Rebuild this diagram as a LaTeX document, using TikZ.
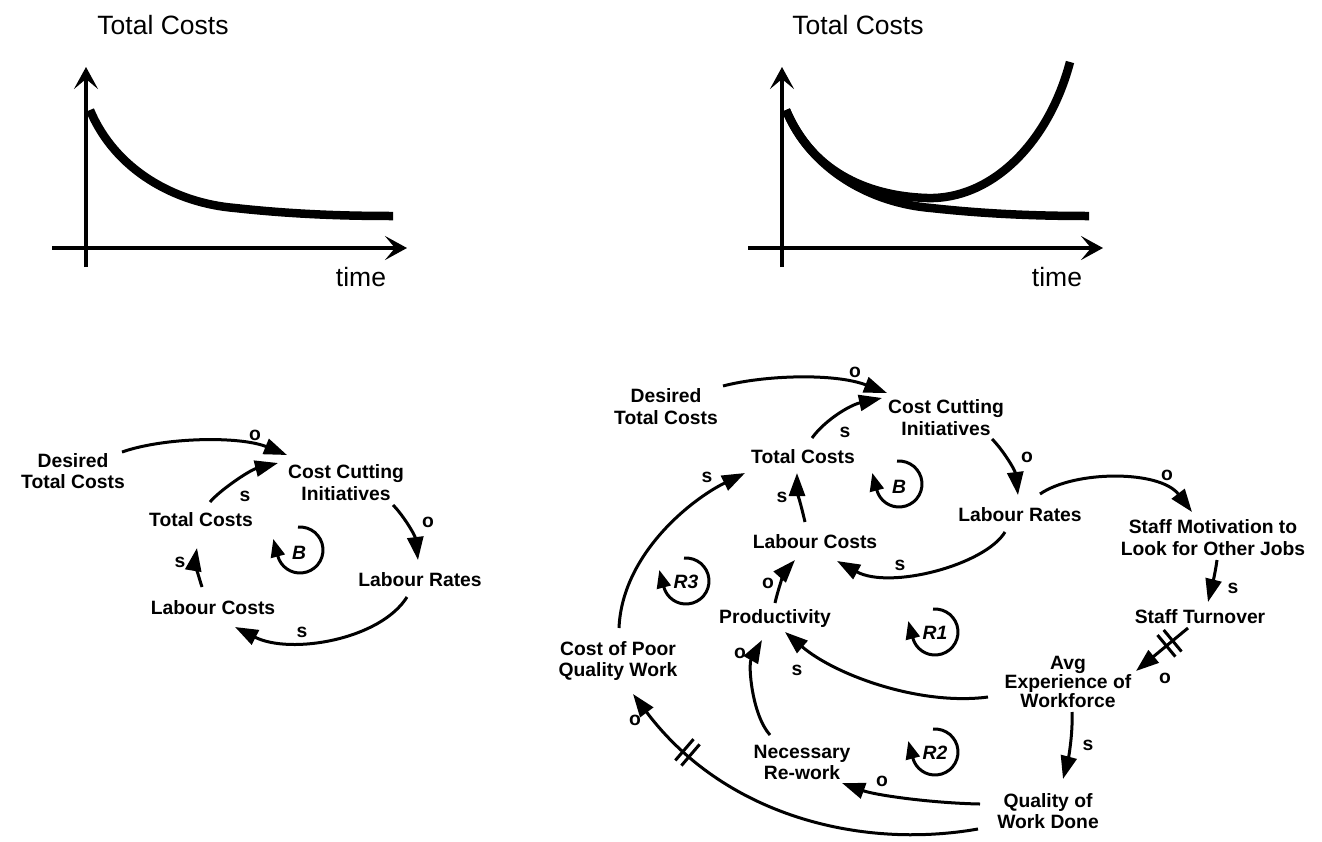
\documentclass[tikz,border=0pt]{standalone}
\usepackage{fontspec}
\setmainfont{Liberation Sans}
\usetikzlibrary{arrows.meta,decorations.markings}
\begin{document}
\begin{tikzpicture}[x=1pt,y=1pt,
  lbl/.style={font=\fontsize{19.3}{21.5}\selectfont\bfseries, align=center, inner sep=0pt},
  sgn/.style={font=\fontsize{19.3}{21.5}\selectfont\bfseries, inner sep=0pt},
  lp/.style={font=\fontsize{19.3}{21.5}\selectfont\bfseries\itshape, inner sep=0pt},
  link/.style={line width=3pt, -{Triangle[length=23pt,width=16pt]}},
  ttl/.style={font=\fontsize{26.5}{30}\selectfont, inner sep=0pt},
  axis/.style={line width=4.5pt, -{Stealth[length=22pt,width=24pt,inset=10pt]}},
  trend/.style={line width=8.5pt},
  delay/.style={postaction={decorate, decoration={markings, mark=at position #1 with {\draw[line width=3pt,-] (-4,-14) -- (-4,14) (4,-14) -- (4,14);}}}},
  loopsym/.pic={\draw[line width=3pt, -{Triangle[length=18pt,width=14pt]}] (95:23) arc[start angle=95,end angle=-165,radius=23] -- ++(-4.5,17);}
]
\useasboundingbox (0,0) rectangle (1322,-841);

% ---------- top graphs ----------
\node[ttl] (title1) at (163,-25) {Total Costs};
\node[ttl] (time1) at (361,-277) {time};
\draw[axis] (52,-248) -- (407,-248);
\draw[axis] (86,-267) -- (86,-67);
\draw[trend] (90,-110) .. controls (115,-170) and (175,-203) .. (235,-208) .. controls (290,-214) and (340,-216) .. (393,-216);

\node[ttl] (title2) at (858,-25) {Total Costs};
\node[ttl] (time2) at (1057,-277) {time};
\draw[axis] (748,-248) -- (1103,-248);
\draw[axis] (782,-267) -- (782,-67);
\begin{scope}[xshift=696pt]
\draw[trend] (90,-110) .. controls (115,-170) and (175,-203) .. (235,-208) .. controls (290,-214) and (340,-216) .. (393,-216);
\end{scope}
\draw[trend] (786,-110) .. controls (811,-170) and (865,-196) .. (927,-198) .. controls (990,-200) and (1048,-145) .. (1070,-62);

% ---------- left causal loop diagram ----------
\node[lbl] (dtc1) at (73,-471) {Desired\\Total Costs};
\node[lbl] (cci1) at (346,-482.5) {Cost Cutting\\Initiatives};
\node[lbl] (tc1) at (201,-520) {Total Costs};
\node[lbl] (lr1) at (420,-580) {Labour Rates};
\node[lbl] (lc1) at (213,-608) {Labour Costs};

\draw[link] ([shift={(49,19)}]dtc1.center) .. controls (165,-437) and (240,-436) .. ([shift={(-59,27.5)}]cci1.center);
\draw[link] ([shift={(9,18)}]tc1.center) .. controls (220,-490) and (250,-470) .. ([shift={(-68,19.5)}]cci1.center);
\draw[link] ([shift={(47,-22.5)}]cci1.center) .. controls (403,-515) and (415,-535) .. ([shift={(-2,20)}]lr1.center);
\draw[link] ([shift={(-13,-17)}]lr1.center) .. controls (380,-640) and (290,-655) .. ([shift={(22,-19)}]lc1.center);
\draw[link] ([shift={(-11,21)}]lc1.center) .. controls (198,-575) and (195,-560) .. ([shift={(-4,-28)}]tc1.center);

\node[sgn] (p1) at (255,-435) {o};
\node[sgn] (p2) at (245,-496) {s};
\node[sgn] (p3) at (428,-522) {o};
\node[sgn] (p4) at (302,-632) {s};
\node[sgn] (p5) at (180,-562) {s};

\pic at (300,-550) {loopsym};
\node[lp] (loopB1) at (299,-553) {B};

% ---------- right causal loop diagram ----------
\node[lbl] (dtc2) at (666,-406.5) {Desired\\Total Costs};
\node[lbl] (cci2) at (946,-417.5) {Cost Cutting\\Initiatives};
\node[lbl] (tc2) at (803,-457) {Total Costs};
\node[lbl] (lr2) at (1020,-515) {Labour Rates};
\node[lbl] (lc2) at (815,-542) {Labour Costs};
\node[lbl] (prod) at (775,-618) {Productivity};
\node[lbl] (cpq) at (618,-661) {Cost of Poor\\Quality Work};
\node[lbl] (smo) at (1213,-537.5) {Staff Motivation to\\Look for Other Jobs};
\node[lbl] (st) at (1200,-617) {Staff Turnover};
\node[lbl, font=\fontsize{19.3}{17.5}\selectfont\bfseries] (avg) at (1068,-682) {Avg\\Experience of\\Workforce};
\node[lbl] (rw) at (802,-762.5) {Necessary\\Re-work};
\node[lbl] (qwd) at (1048,-811) {Quality of\\Work Done};

\draw[link] ([shift={(57,20.5)}]dtc2.center) .. controls (765,-375) and (835,-373) .. ([shift={(-59,24.5)}]cci2.center);
\draw[link] ([shift={(9,19)}]tc2.center) .. controls (825,-420) and (850,-405) .. ([shift={(-64,19.5)}]cci2.center);
\draw[link] ([shift={(46,-21.5)}]cci2.center) .. controls (1003,-450) and (1015,-470) .. ([shift={(-2,20)}]lr2.center);
\draw[link] ([shift={(20,21)}]lr2.center) .. controls (1075,-470) and (1160,-470) .. ([shift={(-21,25.5)}]smo.center);
\draw[link] ([shift={(4,-22.5)}]smo.center) .. controls (1215,-575) and (1211,-590) .. ([shift={(8,15)}]st.center);
\draw[link, delay=24pt] ([shift={(-12,-11)}]st.center) -- ([shift={(68,11)}]avg.center);
\draw[link] ([shift={(4,-30)}]avg.center) .. controls (1073,-735) and (1068,-760) .. ([shift={(15,32)}]qwd.center);
\draw[link] ([shift={(-68,7)}]qwd.center) .. controls (930,-803) and (875,-795) .. ([shift={(40,-20.5)}]rw.center);
\draw[link, delay=-80pt] ([shift={(-70,-18)}]qwd.center) .. controls (858,-850) and (723,-814) .. ([shift={(15,-33)}]cpq.center);
\draw[link] ([shift={(-80,-15)}]avg.center) .. controls (920,-706) and (835,-675) .. ([shift={(10,-14)}]prod.center);
\draw[link] ([shift={(-32,27.5)}]rw.center) .. controls (752,-715) and (748,-665) .. ([shift={(-13,-22)}]prod.center);
\draw[link] ([shift={(0,15)}]prod.center) .. controls (779,-585) and (786,-570) .. ([shift={(-20,-18)}]lc2.center);
\draw[link] ([shift={(1,33)}]cpq.center) .. controls (622,-555) and (690,-500) .. ([shift={(-58,-16)}]tc2.center);
\draw[link] ([shift={(-10,20)}]lc2.center) .. controls (801,-505) and (797,-490) .. ([shift={(-6,-16)}]tc2.center);
\draw[link] ([shift={(-15,-17)}]lr2.center) .. controls (985,-565) and (890,-590) .. ([shift={(22,-19)}]lc2.center);

\node[sgn] (q1) at (855,-372) {o};
\node[sgn] (q2) at (845,-432) {s};
\node[sgn] (q3) at (1027,-457) {o};
\node[sgn] (q4) at (1167,-475) {o};
\node[sgn] (q5) at (1233,-588) {s};
\node[sgn] (q6) at (1165,-678) {o};
\node[sgn] (q7) at (1088,-745) {s};
\node[sgn] (q8) at (882,-781) {o};
\node[sgn] (q9) at (635,-720) {o};
\node[sgn] (q10) at (797,-670) {s};
\node[sgn] (q11) at (740,-653) {o};
\node[sgn] (q12) at (768,-583) {o};
\node[sgn] (q13) at (707,-477) {s};
\node[sgn] (q14) at (782,-497) {s};
\node[sgn] (q15) at (900,-565) {s};

\pic at (899,-484) {loopsym};
\node[lp] (loopB2) at (899,-487) {B};
\pic at (935,-632) {loopsym};
\node[lp] (loopR1) at (935,-633) {R1};
\pic at (935,-752) {loopsym};
\node[lp] (loopR2) at (935,-753) {R2};
\pic at (686,-581) {loopsym};
\node[lp] (loopR3) at (686,-582) {R3};
\end{tikzpicture}
\end{document}
